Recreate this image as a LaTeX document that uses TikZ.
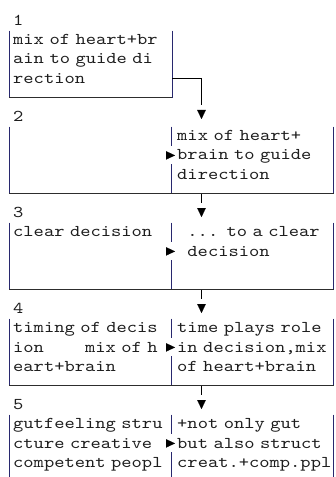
\documentclass[tikz,border=0pt]{standalone}
\usepackage{fontspec}
\newfontfamily\boxmono{lmmono10-regular}[Extension=.otf,FakeStretch=1.186]
\usetikzlibrary{arrows.meta}
\definecolor{ink}{RGB}{30,30,30}
\definecolor{rulev}{RGB}{40,40,110}
\definecolor{ruleh}{RGB}{45,45,45}
% one character cell of the monospaced text
\newlength\cellpitch
\setlength\cellpitch{10.27bp}
\newcommand\cellfont{\boxmono\fontsize{16.5bp}{19.2bp}\selectfont\spaceskip\cellpitch\relax}

\begin{document}
\begin{tikzpicture}[x=1bp,y=-1bp,
  cell/.style={anchor=base west, inner sep=0pt, text width=172bp, align=left,
    text=ink, font={\cellfont}},
  vrule/.style={draw=rulev, line width=1bp},
  hrule/.style={draw=ruleh, line width=1bp},
  link/.style={draw=black, line width=1bp},
  downtip/.style={draw=black, line width=0.1bp,
    -{Triangle[width=8.6bp,length=9bp]}},
  righttip/.style={draw=black, line width=0.1bp,
    -{Triangle[width=8.4bp,length=9bp]}},
]
\fill[white] (0,0) rectangle (335,477);
\useasboundingbox (0,0) rectangle (335,477);

% step numbers
\node[cell] (n1) at (13,25.6)  {1};
\node[cell] (n2) at (13,121.6) {2};
\node[cell] (n3) at (13,217.6) {3};
\node[cell] (n4) at (13,313.6) {4};
\node[cell] (n5) at (13,409.6) {5};

% step 1
\draw[vrule] (9,30.6) -- (9,97.8);
\draw[vrule] (172,30.6) -- (172,97.8);
\draw[hrule] (9,97.8) -- (172,97.8);
\node[cell] (s1) at (13,44.8) {mix of heart+br\\ain to guide di\\rection};

% step 2
\draw[vrule] (9,126.6) -- (9,193.8);
\draw[vrule] (333.5,126.6) -- (333.5,193.8);
\draw[vrule] (171.7,126.6) -- (171.7,146.4);
\draw[vrule] (171.7,164.4) -- (171.7,193.8);
\draw[hrule] (9,193.8) -- (333.5,193.8);
\node[cell] (s2r) at (177,140.8) {mix of heart+\\brain to guide\\direction};

% step 3
\draw[vrule] (9,222.6) -- (9,289.8);
\draw[vrule] (333.5,222.6) -- (333.5,289.8);
\draw[vrule] (171.7,222.6) -- (171.7,242.4);
\draw[vrule] (171.7,260.4) -- (171.7,289.8);
\draw[hrule] (9,289.8) -- (333.5,289.8);
\node[cell] (s3l) at (13,236.8) {clear decision};
\node[cell] (s3r) at (177,236.8) {\hspace*{\cellpitch}... to a clear\\\hspace*{\cellpitch}decision};

% step 4
\draw[vrule] (9,318.6) -- (9,385.8);
\draw[vrule] (333.5,318.6) -- (333.5,385.8);
\draw[vrule] (171.7,318.6) -- (171.7,338.4);
\draw[vrule] (171.7,356.4) -- (171.7,385.8);
\draw[hrule] (9,385.8) -- (333.5,385.8);
\node[cell] (s4l) at (13,332.8) {timing of decis\\ion\hspace*{4\cellpitch}mix of h\\eart+brain};
\node[cell] (s4r) at (177,332.8) {time plays role\\in decision,mix\\of heart+brain};

% step 5
\draw[vrule] (9,414.6) -- (9,477);
\draw[vrule] (333.5,414.6) -- (333.5,477);
\draw[vrule] (171.7,414.6) -- (171.7,434.4);
\draw[vrule] (171.7,452.4) -- (171.7,477);
\node[cell] (s5l) at (13,428.8) {gutfeeling stru\\cture creative\\competent peopl};
\node[cell] (s5r) at (177,428.8) {+not only gut\\but also struct\\creat.+comp.ppl};

% links between the steps
\coordinate (o1) at (172,78.6);
\coordinate (d1) at (201.5,105);
\coordinate (t1) at (201.5,110);
\coordinate (i2) at (201.5,119);
\draw[link] (o1) -| (d1);
\draw[downtip] (t1) -- (i2);

\coordinate (o2) at (201.5,193.8);
\coordinate (d2) at (201.5,203);
\coordinate (t2) at (201.5,208);
\coordinate (i3) at (201.5,217);
\draw[link] (o2) -- (d2);
\draw[downtip] (t2) -- (i3);

\coordinate (o3) at (201.5,289.8);
\coordinate (d3) at (201.5,299);
\coordinate (t3) at (201.5,304);
\coordinate (i4) at (201.5,313);
\draw[link] (o3) -- (d3);
\draw[downtip] (t3) -- (i4);

\coordinate (o4) at (201.5,385.8);
\coordinate (d4) at (201.5,395);
\coordinate (t4) at (201.5,400);
\coordinate (i5) at (201.5,409);
\draw[link] (o4) -- (d4);
\draw[downtip] (t4) -- (i5);

% pointers from the left column into the right column
\coordinate (p2a) at (166,155.4);  \coordinate (p2b) at (175,155.4);
\coordinate (p3a) at (166,251.4);  \coordinate (p3b) at (175,251.4);
\coordinate (p4a) at (166,347.4);  \coordinate (p4b) at (175,347.4);
\coordinate (p5a) at (166,443.4);  \coordinate (p5b) at (175,443.4);
\draw[righttip] (p2a) -- (p2b);
\draw[righttip] (p3a) -- (p3b);
\draw[righttip] (p4a) -- (p4b);
\draw[righttip] (p5a) -- (p5b);
\end{tikzpicture}
\end{document}
